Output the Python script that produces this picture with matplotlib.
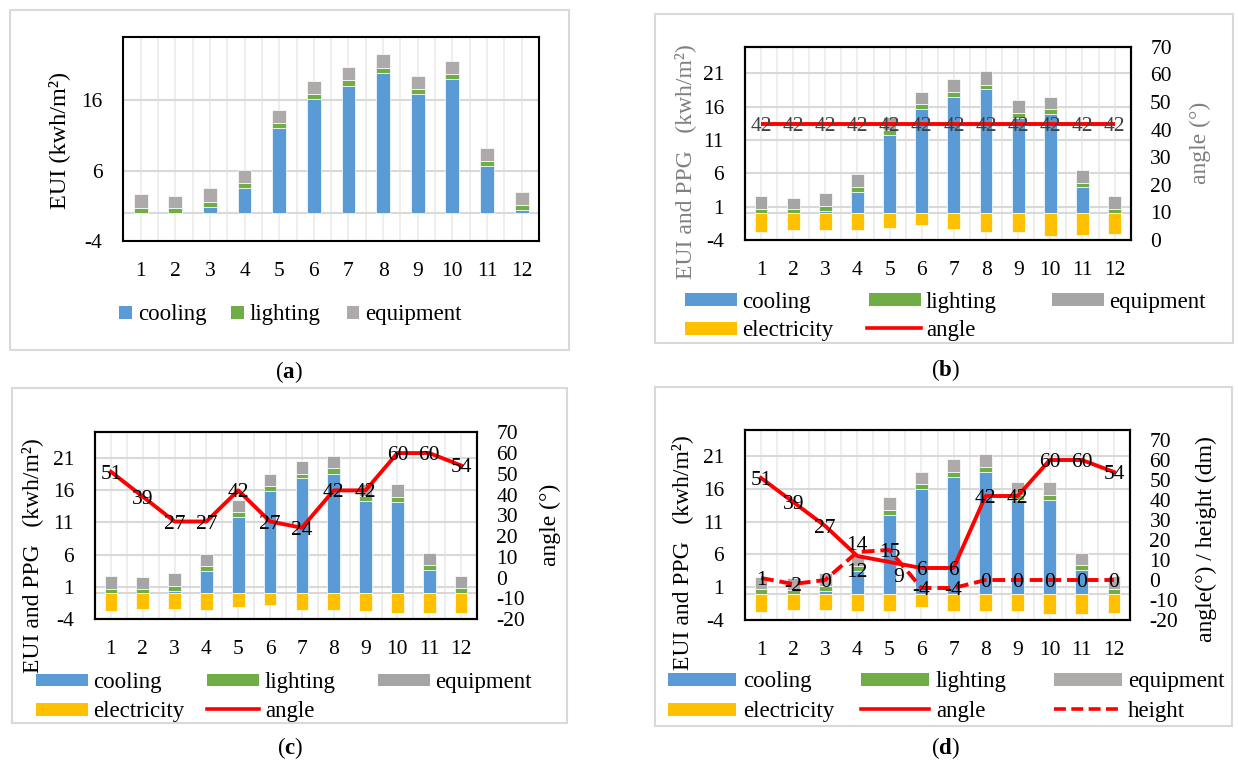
import matplotlib
matplotlib.use('Agg')
import matplotlib.pyplot as plt
from matplotlib.patches import Rectangle
from matplotlib.lines import Line2D
import numpy as np

plt.rcParams['font.family'] = ['Liberation Serif', 'DejaVu Serif']
plt.rcParams['mathtext.fontset'] = 'custom'
plt.rcParams['mathtext.rm'] = 'Liberation Serif'
plt.rcParams['mathtext.bf'] = 'Liberation Serif:bold'
plt.rcParams['axes.unicode_minus'] = False

# ---------------- data ----------------
months = ['1', '2', '3', '4', '5', '6', '7', '8', '9', '10', '11', '12']

# panel (a)
cooling_a = [0.0, 0.0, 0.85, 3.5, 12.0, 16.2, 18.1, 19.9, 16.9, 19.0, 6.6, 0.35]
lighting_a = [0.7, 0.7, 0.7, 0.75, 0.75, 0.75, 0.75, 0.75, 0.7, 0.75, 0.7, 0.75]
equipment_a = [1.95, 1.7, 1.95, 1.85, 1.95, 1.85, 1.9, 1.95, 1.85, 1.9, 1.85, 1.85]

# panel (b)
cooling_b = [0.0, 0.0, 0.4, 3.25, 11.75, 15.65, 17.45, 18.6, 14.25, 14.85, 3.9, 0.0]
lighting_b = [0.65, 0.65, 0.7, 0.75, 0.75, 0.75, 0.75, 0.7, 0.75, 0.75, 0.7, 0.7]
equipment_b = [1.95, 1.7, 1.95, 1.85, 1.9, 1.85, 1.95, 2.0, 2.0, 1.85, 1.9, 1.95]
electricity_b = [-2.85, -2.5, -2.5, -2.5, -2.25, -1.75, -2.3, -2.75, -2.85, -3.4, -3.2, -3.05]
angle_b = [42, 42, 42, 42, 42, 42, 42, 42, 42, 42, 42, 42]

# panel (c)
cooling_c = [0.0, 0.0, 0.4, 3.45, 11.8, 15.9, 17.85, 18.6, 14.35, 14.2, 3.65, 0.0]
lighting_c = [0.65, 0.65, 0.75, 0.8, 0.75, 0.8, 0.75, 0.8, 0.75, 0.8, 0.7, 0.75]
equipment_c = [2.0, 1.8, 1.95, 1.8, 1.9, 1.8, 1.9, 1.9, 1.9, 1.95, 1.9, 1.95]
electricity_c = [-2.75, -2.45, -2.5, -2.55, -2.2, -1.9, -2.6, -2.65, -2.75, -3.1, -3.05, -3.0]
angle_c = [51, 39, 27, 27, 42, 27, 24, 42, 42, 60, 60, 54]

# panel (d)
cooling_d = [0.0, 0.0, 0.4, 3.45, 12.05, 16.0, 17.85, 18.6, 14.3, 14.3, 3.7, 0.0]
lighting_d = [0.7, 0.65, 0.75, 0.75, 0.7, 0.7, 0.7, 0.75, 0.75, 0.75, 0.7, 0.75]
equipment_d = [1.9, 1.75, 1.95, 1.8, 2.0, 1.9, 2.0, 1.95, 1.95, 1.95, 1.9, 2.0]
electricity_d = [-2.8, -2.45, -2.5, -2.55, -2.6, -2.05, -2.65, -2.6, -2.7, -3.15, -3.1, -3.0]
angle_d = [51, 39, 27, 12, 9, 6, 6, 42, 42, 60, 60, 54]
height_d = [1, -2, 0, 14, 15, -4, -4, 0, 0, 0, 0, 0]

left_ticks_a = [-4, 6, 16]
left_ticks = [-4, 1, 6, 11, 16, 21]
right_ticks_b = [0, 10, 20, 30, 40, 50, 60, 70]
right_ticks_cd = [-20, -10, 0, 10, 20, 30, 40, 50, 60, 70]

# ---------------- style ----------------
C_COOL = '#5B9BD5'
C_LIGHT = '#70AD47'
C_EQUIP = '#A5A5A5'
C_EQUIP_W = '#AEAAAA'
C_ELEC = '#FFC000'
C_RED = '#FF0000'
C_GRID = '#D9D9D9'
C_VGRID = '#EBEBEB'
C_BORDER = '#D9D9D9'

W, H = 1238, 763
fig = plt.figure(figsize=(W / 100, H / 100), dpi=100)
fig.patch.set_facecolor('white')

TICK_FS = 15.5
LEG_FS = 16.5
LAB_FS = 17
DL_FS = 15.5


def ax_px(l, t, r, b):
    return fig.add_axes([l / W, 1 - b / H, (r - l) / W, (b - t) / H])


def ftext(x, y, s, **kw):
    fig.text(x / W, 1 - y / H, s, **kw)


def border(l, t, r, b):
    fig.add_artist(Rectangle((l / W, 1 - b / H), (r - l) / W, (b - t) / H,
                             transform=fig.transFigure, facecolor='none',
                             edgecolor=C_BORDER, lw=1.5))


def leg_patch(x0, x1, yc, color, h=12.5):
    fig.add_artist(Rectangle((x0 / W, 1 - (yc + h / 2) / H), (x1 - x0) / W, h / H,
                             transform=fig.transFigure, facecolor=color, edgecolor='none'))


def leg_line(x0, x1, yc, color, ls='-'):
    fig.add_artist(Line2D([x0 / W, x1 / W], [1 - yc / H, 1 - yc / H],
                          transform=fig.transFigure, color=color, lw=2.6, linestyle=ls))


def leg_text(x, yc, s):
    ftext(x, yc, s, ha='left', va='center_baseline', fontsize=LEG_FS)


x = np.arange(len(months))


def setup(ax, yticks, ylim):
    ax.set_xlim(-0.5, 11.5)
    ax.set_ylim(*ylim)
    ax.set_yticks(yticks)
    ax.set_xticks(x)
    ax.set_xticklabels(months)
    ax.set_xticks(np.arange(-0.5, 12, 1), minor=True)
    ax.set_axisbelow(True)
    ax.grid(axis='x', which='both', color=C_VGRID, lw=1.2)
    ax.grid(axis='y', which='major', color=C_GRID, lw=1.5)
    ax.tick_params(which='both', length=0)
    ax.tick_params(axis='x', pad=15, labelsize=TICK_FS)
    ax.tick_params(axis='y', pad=15, labelsize=TICK_FS)
    ax.axhline(0, color=C_GRID, lw=1.5, zorder=2)
    for s in ax.spines.values():
        s.set_color('black')
        s.set_linewidth(1.5)


def bars(ax, cooling, lighting, equipment, electricity, ecol):
    c = np.array(cooling)
    l = np.array(lighting)
    kw = dict(width=0.4, edgecolor='white', linewidth=0.5, zorder=3)
    ax.bar(x, c, color=C_COOL, **kw)
    ax.bar(x, l, bottom=c, color=C_LIGHT, **kw)
    ax.bar(x, equipment, bottom=c + l, color=ecol, **kw)
    if electricity is not None:
        ax.bar(x, electricity, color=C_ELEC, **kw)


def right_axis(ax, ticks, ylim):
    ax2 = ax.twinx()
    ax2.set_ylim(*ylim)
    ax2.set_yticks(ticks)
    ax2.tick_params(length=0, pad=14, labelsize=TICK_FS)
    for s in ax2.spines.values():
        s.set_color('black')
        s.set_linewidth(1.5)
    return ax2


def caption(xc, yc, letter):
    ftext(xc, yc, '($\\mathbf{' + letter + '}$)', ha='center', va='center', fontsize=16.5)


# ================= panel (a) =================
border(10, 10, 568.7, 350)
axa = ax_px(123.3, 37.3, 539, 240.7)
setup(axa, left_ticks_a, (-4, 25))
bars(axa, cooling_a, lighting_a, equipment_a, None, C_EQUIP_W)
ftext(59.3, 140, 'EUI (kwh/m²)', rotation=90, ha='center', va='center', fontsize=LAB_FS + 0.5)
for x0, s, col in [(119.3, 'cooling', C_COOL), (231, 'lighting', C_LIGHT), (346.7, 'equipment', C_EQUIP_W)]:
    leg_patch(x0, x0 + 12.5, 312.3, col, h=12.5)
    leg_text(x0 + 18.5, 312.3, s)
caption(289, 372, 'a')

# ================= panel (b) =================
border(655, 14.3, 1232.7, 343.3)
axb = ax_px(745, 46.7, 1130.7, 240)
setup(axb, left_ticks, (-4, 25))
bars(axb, cooling_b, lighting_b, equipment_b, electricity_b, C_EQUIP)
axb2 = right_axis(axb, right_ticks_b, (0, 70))
axb2.plot(x, angle_b, color=C_RED, lw=2.8, zorder=4, solid_capstyle='butt')
for i, v in enumerate(angle_b):
    axb2.text(i, v, str(v), ha='center', va='center_baseline', fontsize=DL_FS, color='#404040', zorder=5)
ftext(685, 162, 'EUI and PPG   (kwh/m²)', rotation=90, ha='center', va='center',
      fontsize=LAB_FS, color='#7F7F7F')
ftext(1200, 143, 'angle (°)', rotation=90, ha='center', va='center', fontsize=LAB_FS, color='#7F7F7F')
leg_patch(685, 736.7, 299.5, C_COOL); leg_text(742, 299.5, 'cooling')
leg_patch(869, 921, 299.5, C_LIGHT); leg_text(926, 299.5, 'lighting')
leg_patch(1052, 1103.7, 299.5, C_EQUIP); leg_text(1109, 299.5, 'equipment')
leg_patch(685, 736.7, 328.3, C_ELEC); leg_text(742, 328.3, 'electricity')
leg_line(867, 921, 328.3, C_RED); leg_text(926, 328.3, 'angle')
caption(945, 370, 'b')

# ================= panel (c) =================
border(11.7, 388.3, 566.7, 723.3)
axc = ax_px(95, 432.3, 477, 619)
setup(axc, left_ticks, (-4, 25))
bars(axc, cooling_c, lighting_c, equipment_c, electricity_c, C_EQUIP)
axc2 = right_axis(axc, right_ticks_cd, (-20, 70))
axc2.plot(x, angle_c, color=C_RED, lw=2.8, zorder=4)
for i, v in enumerate(angle_c):
    axc2.text(i, v, str(v), ha='center', va='center_baseline', fontsize=DL_FS, color='black', zorder=5)
ftext(31.7, 556, 'EUI and PPG   (kwh/m²)', rotation=90, ha='center', va='center', fontsize=LAB_FS)
ftext(550, 525, 'angle (°)', rotation=90, ha='center', va='center', fontsize=LAB_FS)
leg_patch(36, 87.7, 680, C_COOL); leg_text(93, 680, 'cooling')
leg_patch(207, 259, 680, C_LIGHT); leg_text(265, 680, 'lighting')
leg_patch(378, 430, 680, C_EQUIP); leg_text(435, 680, 'equipment')
leg_patch(36, 87.7, 709.3, C_ELEC); leg_text(93, 709.3, 'electricity')
leg_line(207, 259, 709.3, C_RED); leg_text(265, 709.3, 'angle')
caption(290, 748, 'c')

# ================= panel (d) =================
border(655, 386.7, 1232.3, 725.7)
axd = ax_px(745, 430, 1130, 620)
setup(axd, left_ticks, (-4, 25))
bars(axd, cooling_d, lighting_d, equipment_d, electricity_d, C_EQUIP_W)
axd2 = right_axis(axd, right_ticks_cd, (-20, 75))
axd2.plot(x, angle_d, color=C_RED, lw=2.8, zorder=4)
axd2.plot(x, height_d, color=C_RED, lw=2.8, zorder=4, linestyle=(0, (3.3, 1.5)))
ang_off = {3: (0, -10), 4: (7, -9)}
hgt_off = {3: (0, 6.5)}
for i, v in enumerate(angle_d):
    axd2.annotate(str(v), (i, v), xytext=ang_off.get(i, (0, 0)), textcoords='offset points',
                  ha='center', va='center_baseline', fontsize=DL_FS, color='black', zorder=5)
for i, v in enumerate(height_d):
    axd2.annotate(str(v), (i, v), xytext=hgt_off.get(i, (0, 0)), textcoords='offset points',
                  ha='center', va='center_baseline', fontsize=DL_FS, color='black', zorder=5)
ftext(681.7, 552.5, 'EUI and PPG   (kwh/m²)', rotation=90, ha='center', va='center', fontsize=LAB_FS)
ftext(1206.7, 539, 'angle(°) / height (dm)', rotation=90, ha='center', va='center', fontsize=LAB_FS)
leg_patch(668.3, 735.7, 679.3, C_COOL); leg_text(743, 679.3, 'cooling')
leg_patch(861, 929, 679.3, C_LIGHT); leg_text(936, 679.3, 'lighting')
leg_patch(1054, 1122, 679.3, C_EQUIP_W); leg_text(1128, 679.3, 'equipment')
leg_patch(668.3, 735.7, 709.3, C_ELEC); leg_text(743, 709.3, 'electricity')
leg_line(861, 929, 709.3, C_RED); leg_text(936, 709.3, 'angle')
leg_line(1054, 1122, 709.3, C_RED, ls=(0, (3.3, 1.5))); leg_text(1128, 709.3, 'height')
caption(945, 748, 'd')

fig.savefig('out.png', dpi=100, facecolor='white')
